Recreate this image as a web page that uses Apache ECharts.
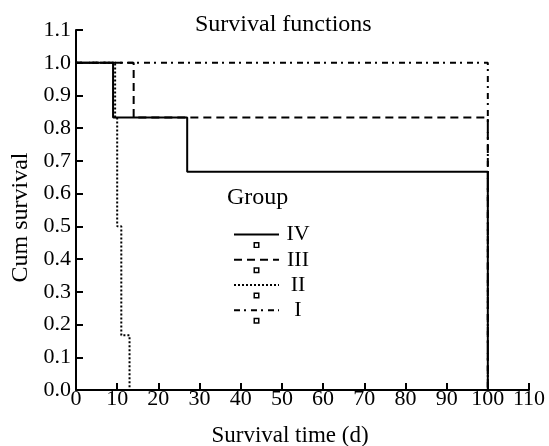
<!DOCTYPE html>
<html>
<head>
<meta charset="utf-8">
<script src="https://cdn.jsdelivr.net/npm/echarts@6/dist/echarts.min.js"></script>
<style>
  html, body { margin: 0; padding: 0; background: #fff; }
  #chart { width: 549px; height: 446px; }
</style>
</head>
<body>
<div id="chart"></div>
<script>
// Kaplan-Meier steps per group (time in days, cumulative survival)
var groupNames = ["IV", "III", "II", "I"];
var timesIV = [0, 9, 27, 100, 100];
var survIV = [1, 0.833, 0.667, 0.667, 0];
var timesIII = [0, 14, 100, 100];
var survIII = [1, 0.833, 0.833, 0];
var timesII = [0, 9.5, 10, 11, 13];
var survII = [1, 0.833, 0.5, 0.167, 0];
var timesI = [0, 100, 100];
var survI = [1, 1, 0];

var lineTypes = ["solid", [8, 5], [2, 2], [6, 4, 2, 5]];
var lineWidths = [2, 2, 2, 2];

// legend marker: small hollow square below the line
var legendMark = "path://M-17,-17M17,17M-3.75,9.4L3.75,9.4L3.75,16.9L-3.75,16.9ZM-1.9,11.25L-1.9,15.05L1.9,15.05L1.9,11.25Z";

function pairs(t, s) {
  return t.map(function (x, i) { return [x, s[i]]; });
}

var groupData = [pairs(timesIV, survIV), pairs(timesIII, survIII), pairs(timesII, survII), pairs(timesI, survI)];

var font = "Liberation Serif";
var chart = echarts.init(document.getElementById("chart"));

chart.setOption({
  animation: false,
  textStyle: { fontFamily: font, color: "#000" },
  title: [
    {
      text: "Survival functions",
      left: 195,
      top: 13,
      padding: 0,
      textStyle: { fontFamily: font, fontSize: 24, fontWeight: "normal", color: "#000" }
    },
    {
      text: "Group",
      left: 227,
      top: 186,
      padding: 0,
      textStyle: { fontFamily: font, fontSize: 24, fontWeight: "normal", color: "#000" }
    }
  ],
  grid: { left: 76, right: 20, top: 30, bottom: 56, containLabel: false, outerBoundsMode: "none" },
  legend: {
    orient: "vertical",
    left: 233,
    top: 221,
    padding: 0,
    itemWidth: 45,
    itemHeight: 34,
    itemGap: -2,
    itemStyle: { borderWidth: 0 },
    data: groupNames,
    formatter: "{a|{name}}",
    textStyle: {
      fontFamily: font,
      fontSize: 22,
      color: "#000",
      rich: { a: { width: 28, align: "center", fontFamily: font, fontSize: 22, color: "#000" } }
    }
  },
  xAxis: {
    type: "value",
    min: 0,
    max: 110,
    interval: 10,
    name: "Survival time (d)",
    nameLocation: "middle",
    nameGap: 34,
    nameTextStyle: { fontFamily: font, fontSize: 23, color: "#000", padding: [0, 25, 0, 0] },
    axisLine: { lineStyle: { color: "#000", width: 2 } },
    axisTick: { inside: true, length: 7, lineStyle: { color: "#000", width: 2 } },
    axisLabel: { margin: -2, fontFamily: font, fontSize: 22, color: "#000" },
    splitLine: { show: false }
  },
  yAxis: {
    type: "value",
    min: 0,
    max: 1.1,
    interval: 0.1,
    name: "Cum survival",
    nameLocation: "middle",
    nameGap: 43,
    nameTextStyle: { fontFamily: font, fontSize: 24, color: "#000", padding: [0, 15, 0, 0] },
    axisLine: { show: true, lineStyle: { color: "#000", width: 2 } },
    axisTick: { show: true, inside: true, length: 7, lineStyle: { color: "#000", width: 2 } },
    axisLabel: {
      margin: 5,
      fontFamily: font,
      fontSize: 22,
      color: "#000",
      formatter: function (v) { return v.toFixed(1); }
    },
    splitLine: { show: false }
  },
  series: groupNames.map(function (name, i) {
    return {
      name: name,
      type: "line",
      step: "end",
      data: groupData[i],
      showSymbol: false,
      symbol: legendMark,
      color: "#000",
      lineStyle: { color: "#000", width: lineWidths[i], type: lineTypes[i] },
      z: 10 - i
    };
  })
});
</script>
</body>
</html>
